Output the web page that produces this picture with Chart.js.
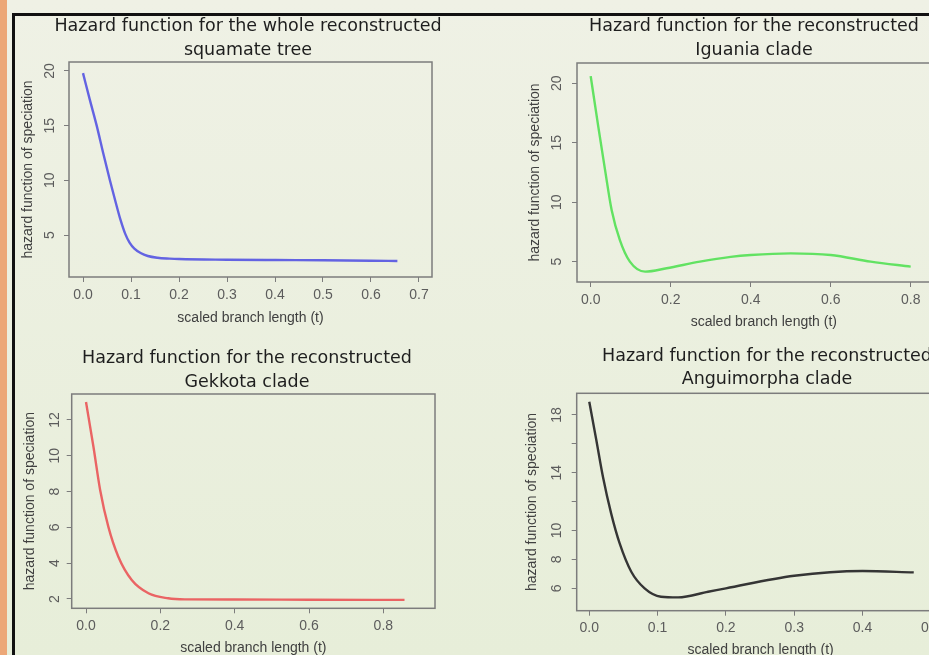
<!DOCTYPE html>
<html>
<head>
<meta charset="utf-8">
<script src="https://cdn.jsdelivr.net/npm/chart.js@4"></script>
<style>
  html, body { margin: 0; padding: 0; overflow: hidden; }
  #stage {
    position: relative; width: 929px; height: 655px; overflow: hidden;
    background: linear-gradient(#eff1e5, #e7eed9);
  }
  #stage canvas { position: absolute; }
  .strip { position: absolute; left: 0; top: 0; width: 7px; height: 655px; background: #eca777; }
  .vline { position: absolute; left: 12px; top: 13px; width: 3px; height: 642px; background: #111; }
  .hline { position: absolute; left: 12px; top: 13px; width: 917px; height: 3px; background: #111; }
</style>
</head>
<body>
<div id="stage">
  <div class="strip"></div>
  <div class="vline"></div>
  <div class="hline"></div>
</div>
<script>
// Hazard curves (t = scaled branch length)
const squamateT = [0, 0.014, 0.0285, 0.042, 0.056, 0.068, 0.078, 0.088, 0.097, 0.107, 0.12, 0.135, 0.155, 0.18, 0.2, 0.3, 0.4, 0.5, 0.6, 0.655];
const squamateH = [19.8, 17.4, 15.0, 12.5, 10.0, 8.0, 6.4, 5.1, 4.3, 3.75, 3.35, 3.08, 2.92, 2.84, 2.8, 2.74, 2.71, 2.69, 2.65, 2.62];

const iguaniaT = [0, 0.019, 0.036, 0.0525, 0.073, 0.098, 0.136, 0.19, 0.273, 0.35, 0.4, 0.5, 0.6, 0.7, 0.8];
const iguaniaH = [20.6, 16.35, 12.7, 9.33, 6.81, 5.0, 4.16, 4.45, 5.0, 5.4, 5.56, 5.7, 5.56, 5.0, 4.58];

const gekkotaT = [0, 0.02, 0.038, 0.06, 0.087, 0.123, 0.168, 0.221, 0.266, 0.4, 0.6, 0.857];
const gekkotaH = [13.0, 10.5, 8.09, 6.04, 4.36, 3.06, 2.32, 2.04, 1.98, 1.97, 1.96, 1.95];

const anguiT = [0, 0.0103, 0.02, 0.032, 0.0445, 0.0615, 0.081, 0.105, 0.13, 0.174, 0.2, 0.3, 0.4, 0.475];
const anguiH = [18.92, 16.27, 13.73, 11.19, 9.11, 7.15, 6.0, 5.42, 5.37, 5.76, 6.0, 6.87, 7.2, 7.1];

// y tick labels that R managed to print on the Anguimorpha panel
const anguiYLabels = [6, 8, 10, 14, 18];

const X_LABEL = 'scaled branch length (t)';
const Y_LABEL = 'hazard function of speciation';
const Y_AXIS_W = 53;

// layout: plot box and text positions in page pixels
const panels = [
    {
        title: ['Hazard function for the whole reconstructed', 'squamate tree'],
        t: squamateT, h: squamateH, color: '#6363e2',
        xMin: -0.0292, xMax: 0.7271, xStep: 0.1, yMin: 1.16, yMax: 20.82, yStep: 5,
        box: { l: 69, r: 432, t: 62, b: 277 },
        titleX: 248, titleY: 26, lineH: 24, yTickX: 50, yTitleX: 28, xTitleY: 318, bottom: 332
    },
    {
        title: ['Hazard function for the reconstructed', 'Iguania clade'],
        t: iguaniaT, h: iguaniaH, color: '#62e262',
        xMin: -0.0342, xMax: 0.9, xStep: 0.2, yMin: 3.29, yMax: 21.7, yStep: 5,
        box: { l: 577, r: 950.7, t: 63, b: 282 },
        titleX: 754, titleY: 26, lineH: 24, yTickX: 556.7, yTitleX: 535, xTitleY: 321.7, bottom: 332
    },
    {
        title: ['Hazard function for the reconstructed', 'Gekkota clade'],
        t: gekkotaT, h: gekkotaH, color: '#ea6464',
        xMin: -0.0385, xMax: 0.939, xStep: 0.2, yMin: 1.48, yMax: 13.45, yStep: 2,
        box: { l: 71.7, r: 435, t: 394, b: 608.3 },
        titleX: 247, titleY: 358.3, lineH: 24, yTickX: 55, yTitleX: 30, xTitleY: 648.3, bottom: 665
    },
    {
        title: ['Hazard function for the reconstructed', 'Anguimorpha clade'],
        t: anguiT, h: anguiH, color: '#353535', yLabels: anguiYLabels,
        xMin: -0.0184, xMax: 0.52, xStep: 0.1, yMin: 4.45, yMax: 19.5, yStep: 2,
        box: { l: 576.7, r: 944.5, t: 393.3, b: 610.7 },
        titleX: 767, titleY: 356.7, lineH: 23, yTickX: 556.7, yTitleX: 531.7, xTitleY: 650, bottom: 665
    }
];

const axisFont = { family: '"Liberation Sans", Arial, sans-serif', size: 14 };

// frame round the plotting region, as R's box()
const plotBox = {
    id: 'plotBox',
    afterDatasetsDraw(chart) {
        const { ctx, chartArea: a } = chart;
        ctx.save();
        ctx.strokeStyle = '#7c7c7c';
        ctx.lineWidth = 1.5;
        ctx.strokeRect(a.left, a.top, a.right - a.left, a.bottom - a.top);
        ctx.restore();
    }
};

function buildPanel(p) {
    const L = Math.round(p.box.l - Y_AXIS_W);
    const W = Math.round(2 * (p.titleX - L));
    const T = Math.round(p.titleY - p.lineH / 2);
    const H = Math.round(p.bottom - T);
    const yW = p.box.l - L;
    const y2W = L + W - p.box.r;
    const xH = T + H - p.box.b;
    const titlePadB = Math.max(0, p.box.t - T - 2 * p.lineH);

    const canvas = document.createElement('canvas');
    canvas.width = W;
    canvas.height = H;
    canvas.style.left = L + 'px';
    canvas.style.top = T + 'px';
    document.getElementById('stage').appendChild(canvas);

    const points = p.t.map((t, i) => ({ x: t, y: p.h[i] }));

    new Chart(canvas.getContext('2d'), {
        type: 'line',
        data: {
            datasets: [{
                data: points,
                borderColor: p.color,
                borderWidth: 2.4,
                pointRadius: 0,
                cubicInterpolationMode: 'monotone',
                fill: false
            }]
        },
        options: {
            responsive: false,
            animation: false,
            layout: { padding: 0 },
            scales: {
                x: {
                    type: 'linear',
                    min: p.xMin,
                    max: p.xMax,
                    afterFit: s => { s.height = xH; },
                    grid: { drawOnChartArea: false, drawTicks: true, tickLength: 5, color: '#7c7c7c' },
                    border: { display: false },
                    ticks: {
                        stepSize: p.xStep,
                        includeBounds: false,
                        autoSkip: false,
                        maxRotation: 0,
                        padding: 4.5,
                        color: '#5c5c5c',
                        font: axisFont,
                        callback: v => v.toFixed(1)
                    },
                    title: {
                        display: true,
                        text: X_LABEL,
                        color: '#404040',
                        font: axisFont,
                        padding: { top: 0, bottom: T + H - p.xTitleY - 8.4 }
                    }
                },
                y: {
                    type: 'linear',
                    min: p.yMin,
                    max: p.yMax,
                    afterFit: s => { s.width = yW; },
                    grid: { drawOnChartArea: false, drawTicks: true, tickLength: 5, color: '#7c7c7c' },
                    border: { display: false },
                    ticks: {
                        stepSize: p.yStep,
                        includeBounds: false,
                        autoSkip: false,
                        minRotation: 90,
                        maxRotation: 90,
                        crossAlign: 'center',
                        padding: p.box.l - 5 - 7.8 - p.yTickX,
                        color: '#5c5c5c',
                        font: axisFont,
                        callback: v => (!p.yLabels || p.yLabels.includes(v)) ? String(v) : ''
                    },
                    title: {
                        display: true,
                        text: Y_LABEL,
                        color: '#404040',
                        font: axisFont,
                        padding: { top: p.yTitleX - L - 8.4, bottom: 0 }
                    }
                },
                yRight: {
                    position: 'right',
                    afterFit: s => { s.width = y2W; },
                    grid: { display: false },
                    border: { display: false },
                    ticks: { display: false }
                }
            },
            plugins: {
                legend: { display: false },
                tooltip: { enabled: false },
                title: {
                    display: true,
                    text: p.title,
                    color: '#1e1e1e',
                    font: { family: '"DejaVu Sans", Verdana, sans-serif', size: 17.5, weight: 'normal', lineHeight: p.lineH / 17.5 },
                    padding: { top: 0, bottom: titlePadB }
                }
            }
        },
        plugins: [plotBox]
    });
}

panels.forEach(buildPanel);
</script>
</body>
</html>
